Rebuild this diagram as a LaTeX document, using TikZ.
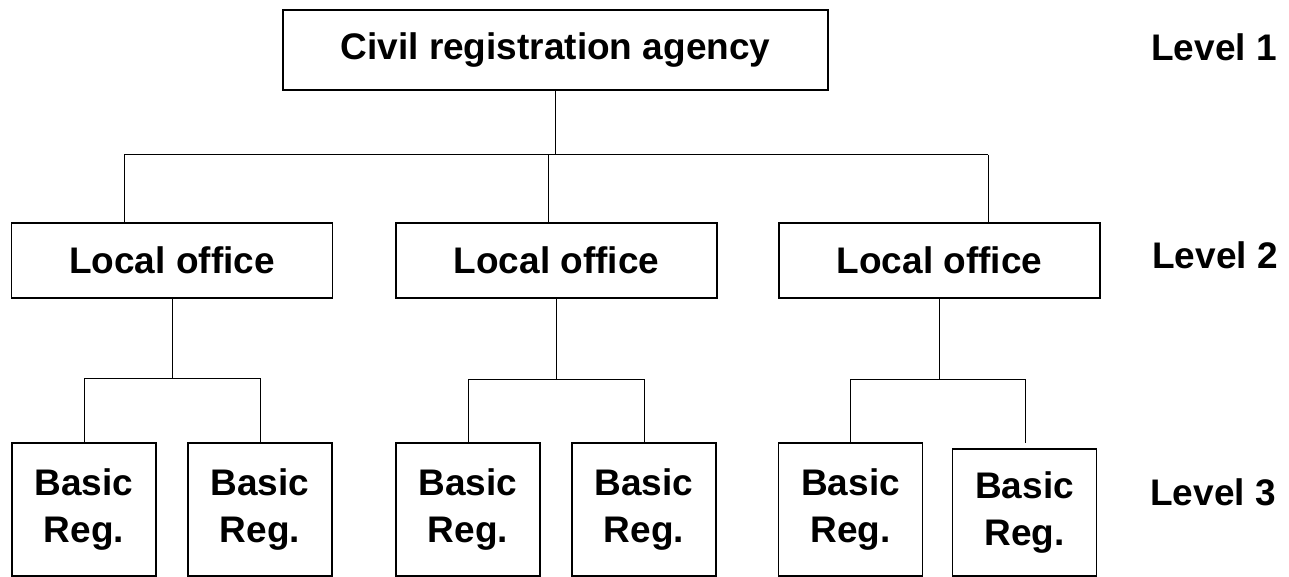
\documentclass[tikz,border=0pt]{standalone}
\usepackage{fontspec}
\setmainfont{Liberation Sans}
\begin{document}
\begin{tikzpicture}[x=1pt,y=-1pt,
  box/.style={draw, line width=1.2pt, inner sep=0pt, font=\bfseries\fontsize{37}{47}\selectfont, align=center},
  top/.style={box, minimum width=545pt, minimum height=80pt},
  office/.style={box, minimum width=321pt, minimum height=75pt},
  reg/.style={box, minimum width=144pt, minimum height=133pt},
  conn/.style={line width=1pt},
  lvl/.style={inner sep=0pt, anchor=east, font=\bfseries\fontsize{37}{44}\selectfont}]
\useasboundingbox (0,0) rectangle (1289,577);
% level 1
\node[top] (agency) at (555.5,50) {Civil registration agency};
% level 2
\node[office] (L1) at (172,260.5) {Local office};
\node[office] (L2) at (556.5,260.5) {Local office};
\node[office] (L3) at (939.5,260.5) {Local office};
% level 3
\node[reg] (B1) at (84,509.5) {Basic\\Reg.};
\node[reg] (B2) at (260,509.5) {Basic\\Reg.};
\node[reg] (B3) at (468,509.5) {Basic\\Reg.};
\node[reg] (B4) at (644,509.5) {Basic\\Reg.};
\node[reg] (B5) at (850.5,509.5) {Basic\\Reg.};
\node[reg, minimum height=127pt] (B6) at (1024.5,512.5) {Basic\\Reg.};
% level labels
\node[lvl] (lv1) at (1277,47) {Level 1};
\node[lvl] (lv2) at (1278,255) {Level 2};
\node[lvl] (lv3) at (1276,492) {Level 3};
% top bus
\coordinate (busL) at (124,155);
\coordinate (busM) at (548,155);
\coordinate (busR) at (988,155);
\draw[conn] (agency.south) -- (agency.south |- busL);
\draw[conn] (busL) -- (busR);
\draw[conn] (busL) -- (busL |- L1.north);
\draw[conn] (busM) -- (busM |- L2.north);
\draw[conn] (busR) -- (busR |- L3.north);
% lower buses
\coordinate (h1) at (0,378);
\coordinate (h2) at (0,379);
\coordinate (h3) at (0,379);
\coordinate (b6t) at (1025.5,443);
\draw[conn] (L1.south) -- (L1.south |- h1);
\draw[conn] (B1.north) |- (B2.north |- h1) -- (B2.north);
\draw[conn] (L2.south) -- (L2.south |- h2);
\draw[conn] (B3.north) |- (B4.north |- h2) -- (B4.north);
\draw[conn] (L3.south) -- (L3.south |- h3);
\draw[conn] (B5.north) |- (b6t |- h3) -- (b6t);
\end{tikzpicture}
\end{document}
